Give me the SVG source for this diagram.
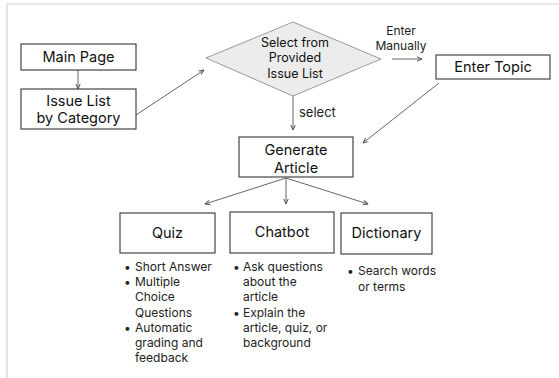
<svg xmlns="http://www.w3.org/2000/svg" width="559" height="378" viewBox="0 0 559 378">
<defs>
<marker id="ah" viewBox="0 0 6 6" refX="5.5" refY="3" markerWidth="6" markerHeight="6" orient="auto" markerUnits="userSpaceOnUse">
<path d="M0.5,0.8 L5.5,3 L0.5,5.2" fill="none" stroke="#555" stroke-width="1"/>
</marker>
</defs>
<style>
.box{fill:#fff;stroke:#444;stroke-width:1.2}
.lbl{font-family:Inter,"Liberation Sans",sans-serif;font-size:14.5px;font-weight:400;fill:#111;text-anchor:middle}
.dl{font-family:Inter,"Liberation Sans",sans-serif;font-size:12.5px;font-weight:400;fill:#111;text-anchor:middle}
.t{font-family:Inter,"Liberation Sans",sans-serif;font-size:12px;fill:#222}
.c{fill:none;stroke:#666;stroke-width:1;marker-end:url(#ah)}
</style>
<rect width="559" height="378" fill="#fff"/>
<path d="M7,378 V4 H559" fill="none" stroke="#d4d4d4" stroke-width="1.2"/>
<g id="connectors">
<line class="c" x1="78" y1="70" x2="78" y2="89"/>
<line class="c" x1="136" y1="115" x2="204" y2="70"/>
<line class="c" x1="392" y1="59" x2="422" y2="59"/>
<line class="c" x1="293" y1="96" x2="293" y2="130"/>
<line class="c" x1="439" y1="83" x2="363" y2="143"/>
<line class="c" x1="286" y1="178" x2="205" y2="204"/>
<line class="c" x1="286" y1="178" x2="286" y2="204"/>
<line class="c" x1="286" y1="178" x2="368" y2="204"/>
<text class="t" x="401" y="35" text-anchor="middle">Enter</text>
<text class="t" x="401" y="50" text-anchor="middle">Manually</text>
<text class="t" x="299" y="117" style="font-size:13px">select</text>
</g>
<g id="main-page">
<rect class="box" x="21" y="44" width="115" height="26"/>
<text class="lbl" x="78.5" y="62">Main Page</text>
</g>
<g id="issue-list">
<rect class="box" x="21" y="89" width="115" height="40"/>
<text class="lbl" x="78.5" y="106">Issue List</text>
<text class="lbl" x="78.5" y="123">by Category</text>
</g>
<g id="select-decision">
<polygon points="293,22 381,59 293,96 206,58" fill="#ececec" stroke="#999" stroke-width="1"/>
<text class="dl" x="295" y="47">Select from</text>
<text class="dl" x="295" y="62">Provided</text>
<text class="dl" x="295" y="78">Issue List</text>
</g>
<g id="enter-topic">
<rect class="box" x="436" y="55" width="114" height="24"/>
<text class="lbl" x="493" y="72">Enter Topic</text>
</g>
<g id="generate-article">
<rect class="box" x="239" y="137" width="114" height="40"/>
<text class="lbl" x="296" y="155">Generate</text>
<text class="lbl" x="296" y="173">Article</text>
</g>
<g id="quiz">
<rect class="box" x="120" y="213" width="95" height="40"/>
<text class="lbl" x="167.5" y="238">Quiz</text>
<text class="t"><tspan x="124" y="271">•</tspan><tspan x="135" y="271">Short Answer</tspan><tspan x="124" y="286">•</tspan><tspan x="135" y="286">Multiple</tspan><tspan x="135" y="301">Choice</tspan><tspan x="135" y="317">Questions</tspan><tspan x="124" y="332">•</tspan><tspan x="135" y="332">Automatic</tspan><tspan x="135" y="347">grading and</tspan><tspan x="135" y="362">feedback</tspan></text>
</g>
<g id="chatbot">
<rect class="box" x="230" y="212" width="104" height="41"/>
<text class="lbl" x="282" y="237">Chatbot</text>
<text class="t"><tspan x="233" y="271">•</tspan><tspan x="243" y="271">Ask questions</tspan><tspan x="243" y="286">about the</tspan><tspan x="243" y="301">article</tspan><tspan x="233" y="317">•</tspan><tspan x="243" y="317">Explain the</tspan><tspan x="243" y="332">article, quiz, or</tspan><tspan x="243" y="347">background</tspan></text>
</g>
<g id="dictionary">
<rect class="box" x="341" y="213" width="91" height="41"/>
<text class="lbl" x="386.5" y="238">Dictionary</text>
<text class="t"><tspan x="347" y="275">•</tspan><tspan x="358" y="275">Search words</tspan><tspan x="358" y="291">or terms</tspan></text>
</g>
</svg>
